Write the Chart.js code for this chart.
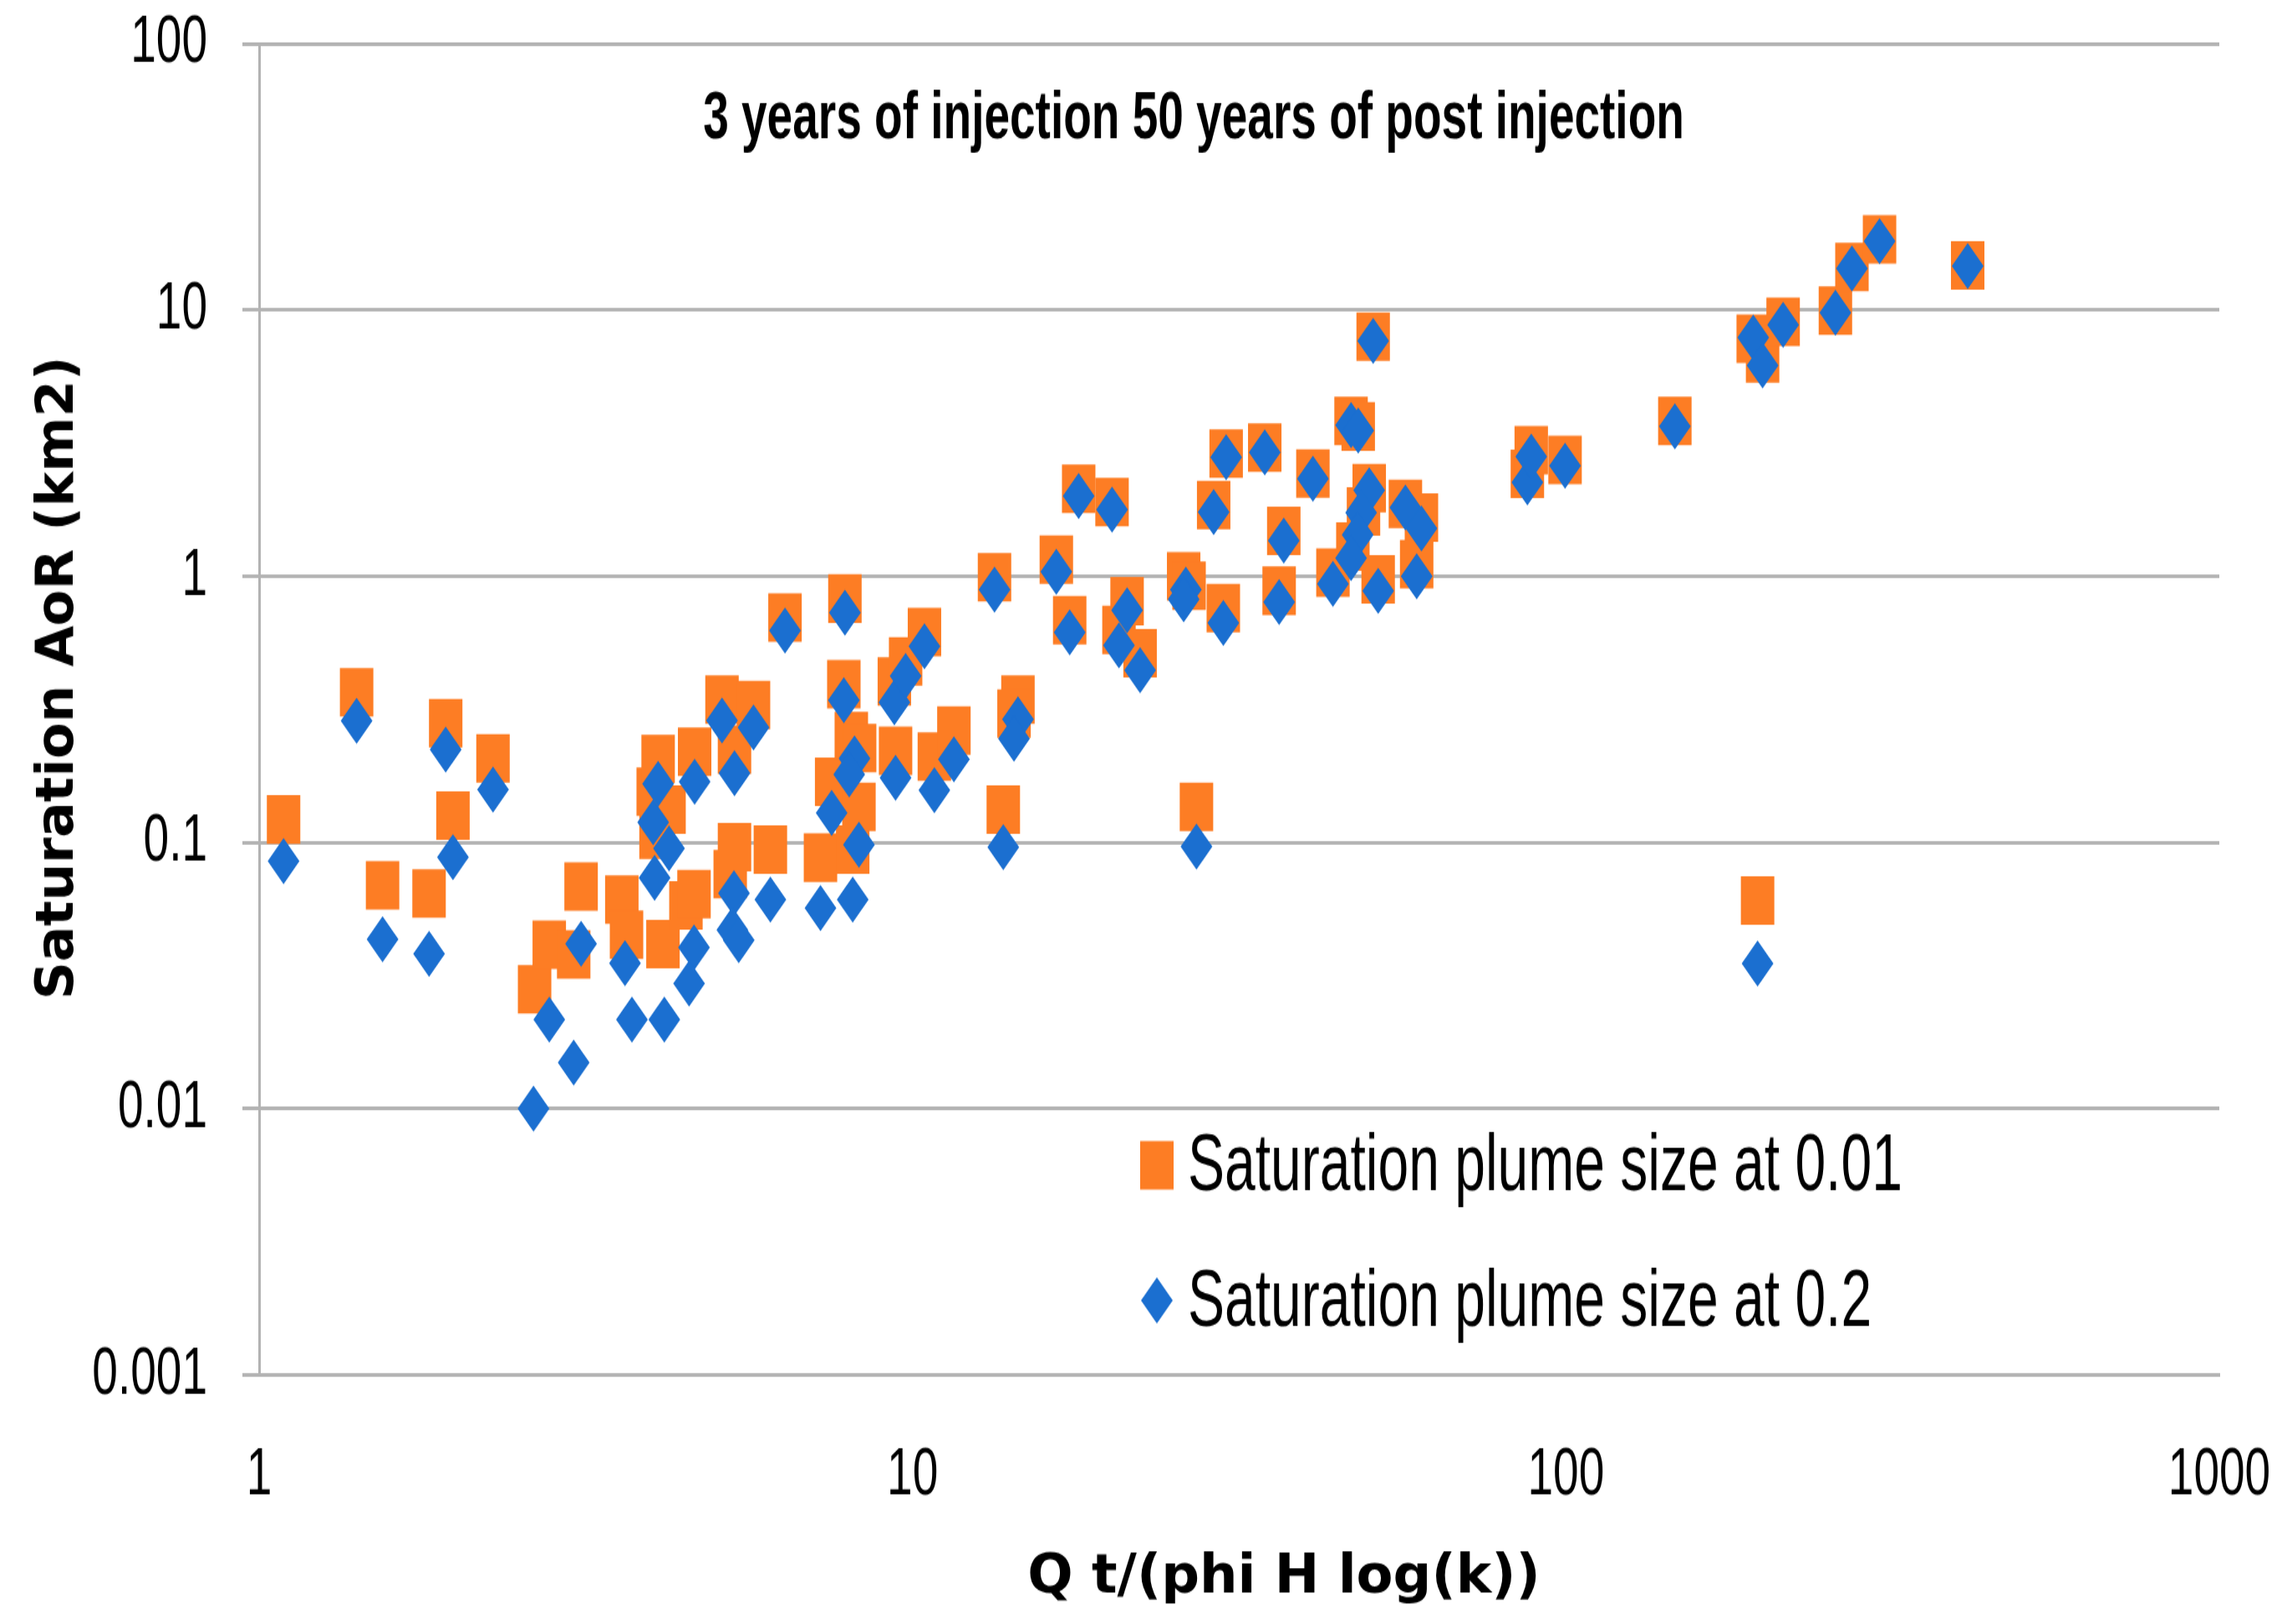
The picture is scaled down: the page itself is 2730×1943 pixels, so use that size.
<!DOCTYPE html>
<html>
<head>
<meta charset="utf-8">
<style>
  html, body { margin: 0; padding: 0; background: #ffffff; overflow: hidden; }
</style>
<script src="https://cdn.jsdelivr.net/npm/chart.js@4.4.1/dist/chart.umd.min.js"></script>
</head>
<body>
<canvas id="c" width="2730" height="1340" style="display:block;width:2730px;height:1943px;"></canvas>
<script>
// ---------------- data ----------------
const chartTitle = '3 years of injection 50 years of post injection';
const xAxisTitle = 'Q t/(phi H log(k))';
const yAxisTitle = 'Saturation AoR (km2)';
const seriesNames = ['Saturation plume size at 0.01', 'Saturation plume size at 0.2'];

const xTickValues = [1, 10, 100, 1000];
const xTickLabels = ['1', '10', '100', '1000'];
const yTickValues = [0.001, 0.01, 0.1, 1, 10, 100];
const yTickLabels = ['0.001', '0.01', '0.1', '1', '10', '100'];

// Saturation plume size at 0.01 (orange squares)
const plume001X = [1.09, 1.41, 1.545, 1.82, 1.93, 1.98, 2.28, 2.64, 2.78, 3.03, 3.11,
  3.59, 3.65, 4.01, 4.05, 4.08, 4.15, 4.24, 4.5, 4.63, 4.64, 5.11, 5.26, 5.34, 5.34,
  5.71, 6.06, 6.38, 7.23, 7.52, 7.85, 7.88, 8.06, 8.3, 8.28, 8.1, 9.38, 9.42, 9.76,
  10.43, 10.8, 11.57, 13.35, 13.77, 14.5, 14.3, 16.6, 17.4, 17.96, 20.2, 21.3, 20.7,
  22.3, 26.0, 26.5, 27.2, 29.9, 28.9, 30.2, 34.6, 41.0, 37.0, 36.4, 44.0, 50.7, 46.9,
  48.1, 50.0, 49.0, 47.2, 51.6, 56.8, 60.1, 59.1, 87.3, 88.5, 99.7, 146.8, 193.5, 200,
  215, 258.5, 274, 302, 412, 196.5];
const plume001Y = [0.122, 0.366, 0.069, 0.0643, 0.28, 0.126, 0.207, 0.0281, 0.0413, 0.038, 0.0683,
  0.061, 0.045, 0.155, 0.107, 0.206, 0.0415, 0.133, 0.058, 0.064, 0.219, 0.344, 0.076, 0.223, 0.096,
  0.328, 0.094, 0.70, 0.0877, 0.169, 0.393, 0.824, 0.251, 0.226, 0.136, 0.094, 0.402, 0.221, 0.478,
  0.617, 0.21, 0.263, 0.99, 0.133, 0.344, 0.305, 1.155, 0.683, 2.13, 1.90, 0.805, 0.628,
  0.514, 1.0, 0.92, 0.136, 0.758, 1.85, 2.89, 3.04, 2.43, 1.48, 0.882, 1.03, 7.94, 3.83,
  3.65, 2.14, 1.75, 1.29, 0.974, 1.87, 1.66, 1.11, 2.42, 2.97, 2.73, 3.83, 7.79, 6.58,
  9.02, 9.94, 14.5, 18.4, 14.7, 0.0605];

// Saturation plume size at 0.2 (blue diamonds)
const plume02X = [1.09, 1.41, 1.545, 1.82, 1.93, 1.98, 2.28, 2.63, 2.78, 3.03, 3.11,
  3.63, 3.72, 4.17, 4.03, 4.01, 4.24, 4.08, 4.63, 4.55, 4.64, 5.11, 5.71, 5.34, 5.33,
  5.3, 5.42, 6.06, 6.38, 7.23, 7.52, 7.85, 7.88, 8.15, 8.0, 8.28, 8.1, 9.38, 9.42,
  9.76, 10.43, 10.8, 11.57, 13.35, 13.77, 14.5, 14.3, 16.6, 17.4, 17.96, 20.2, 21.3,
  20.7, 22.3, 26.2, 26.0, 27.2, 29.9, 28.9, 30.2, 34.6, 41.0, 37.0, 36.4, 44.0, 50.7,
  46.9, 48.1, 50.0, 48.6, 48.0, 46.9, 51.6, 56.8, 60.1, 59.1, 87.3, 88.5, 99.7, 146.8,
  193.5, 200, 215, 258.5, 274, 302, 412, 196.5];
const plume02Y = [0.085, 0.286, 0.0433, 0.0382, 0.223, 0.088, 0.158, 0.01, 0.0216, 0.0149, 0.0416,
  0.0352, 0.0216, 0.0216, 0.0736, 0.119, 0.095, 0.166, 0.0403, 0.0295, 0.169, 0.287, 0.27, 0.182, 0.0645,
  0.047, 0.043, 0.061, 0.625, 0.0567, 0.129, 0.342, 0.729, 0.207, 0.18, 0.098, 0.061, 0.336, 0.175,
  0.422, 0.546, 0.157, 0.205, 0.891, 0.096, 0.29, 0.245, 1.04, 0.616, 2.0, 1.78, 0.744,
  0.55, 0.443, 0.891, 0.819, 0.0964, 0.667, 1.74, 2.8, 2.92, 2.32, 1.36, 0.80, 0.935, 7.66,
  3.69, 3.52, 2.1, 1.73, 1.43, 1.17, 0.88, 1.81, 1.51, 1.0, 2.25, 2.81, 2.60, 3.65,
  7.88, 6.19, 8.79, 9.75, 14.3, 18.1, 14.6, 0.0351];

// ---------------- styles ----------------
const ORANGE = '#FD7D24';
const BLUE = '#1B6FD0';
const GRID = '#B3B3B3';
const K = 1943 / 1340;   // vertical stretch of the displayed canvas

function pts(xs, ys) { return xs.map((x, i) => ({ x: x, y: ys[i] })); }

const overlay = {
  id: 'overlay',
  afterDraw(chart) {
    const ctx = chart.ctx;
    ctx.save();
    ctx.fillStyle = '#000';
    // chart title (inside plot)
    ctx.font = 'bold 55px "Liberation Sans", Arial, sans-serif';
    ctx.textAlign = 'center';
    ctx.textBaseline = 'middle';
    ctx.fillText(chartTitle, 1428, 99);

    // legend
    const ds = chart.data.datasets;
    ctx.font = '66px "Liberation Sans", Arial, sans-serif';
    ctx.textAlign = 'left';
    ctx.textBaseline = 'alphabetic';
    ctx.fillStyle = ds[0].backgroundColor;
    ctx.fillRect(1364, 941.5, 40, 40);
    ctx.fillStyle = '#000';
    ctx.fillText(ds[0].label, 1421, 982);
    ctx.fillStyle = ds[1].backgroundColor;
    ctx.beginPath();
    ctx.moveTo(1384, 1073 - 19);
    ctx.lineTo(1384 + 19, 1073);
    ctx.lineTo(1384, 1073 + 19);
    ctx.lineTo(1384 - 19, 1073);
    ctx.closePath();
    ctx.fill();
    ctx.fillStyle = '#000';
    ctx.fillText(ds[1].label, 1421, 1094);

    // axis titles, counter-scaled so they are not stretched on screen
    ctx.font = 'bold 64px "DejaVu Sans", Verdana, sans-serif';
    ctx.textAlign = 'center';
    ctx.textBaseline = 'middle';
    ctx.save();
    ctx.translate(1536, 1888 / K);
    ctx.scale(1, 1 / K);
    ctx.fillText(xAxisTitle, 0, 0);
    ctx.restore();

    ctx.font = 'bold 63px "DejaVu Sans", Verdana, sans-serif';
    ctx.save();
    ctx.translate(71, 811 / K);
    ctx.scale(1, 1 / K);
    ctx.rotate(-Math.PI / 2);
    ctx.fillText(yAxisTitle, 0, 0);
    ctx.restore();

    ctx.restore();
  }
};

new Chart(document.getElementById('c'), {
  type: 'scatter',
  data: {
    datasets: [
      {
        label: seriesNames[0],
        data: pts(plume001X, plume001Y),
        pointStyle: 'rect',
        pointRadius: 28.3,
        pointHoverRadius: 28.3,
        backgroundColor: ORANGE,
        borderColor: ORANGE,
        borderWidth: 0,
        order: 2
      },
      {
        label: seriesNames[1],
        data: pts(plume02X, plume02Y),
        pointStyle: 'rectRot',
        pointRadius: 19,
        pointHoverRadius: 19,
        backgroundColor: BLUE,
        borderColor: BLUE,
        borderWidth: 0,
        order: 1
      }
    ]
  },
  options: {
    responsive: false,
    devicePixelRatio: 1,
    animation: false,
    events: [],
    layout: { autoPadding: false, padding: { top: 36, right: 75, left: 0, bottom: 0 } },
    plugins: {
      legend: { display: false },
      title: { display: false },
      tooltip: { enabled: false }
    },
    scales: {
      x: {
        type: 'logarithmic',
        min: 1,
        max: 1000,
        afterBuildTicks: s => { s.ticks = xTickValues.map(v => ({ value: v })); },
        afterFit: s => { s.height = 1340 - 1134.5; s.paddingLeft = 0; s.paddingRight = 0; },
        grid: { display: false, drawTicks: false },
        border: { display: true, color: GRID, width: 3 },
        ticks: {
          padding: 50,
          color: '#000',
          font: { family: '"Liberation Sans", Arial, sans-serif', size: 55 },
          maxRotation: 0,
          autoSkip: false,
          callback: (v, i) => xTickLabels[i]
        }
      },
      y: {
        type: 'logarithmic',
        min: 0.001,
        max: 100,
        afterBuildTicks: s => { s.ticks = yTickValues.map(v => ({ value: v })); },
        afterFit: s => { s.width = 310; s.paddingTop = 0; s.paddingBottom = 0; },
        grid: { color: GRID, lineWidth: 3, drawTicks: true, tickLength: 20 },
        border: { display: true, color: GRID, width: 3 },
        ticks: {
          padding: 42,
          color: '#000',
          font: { family: '"Liberation Sans", Arial, sans-serif', size: 55 },
          autoSkip: false,
          callback: (v, i) => yTickLabels[i]
        }
      }
    }
  },
  plugins: [overlay]
});
</script>
</body>
</html>
